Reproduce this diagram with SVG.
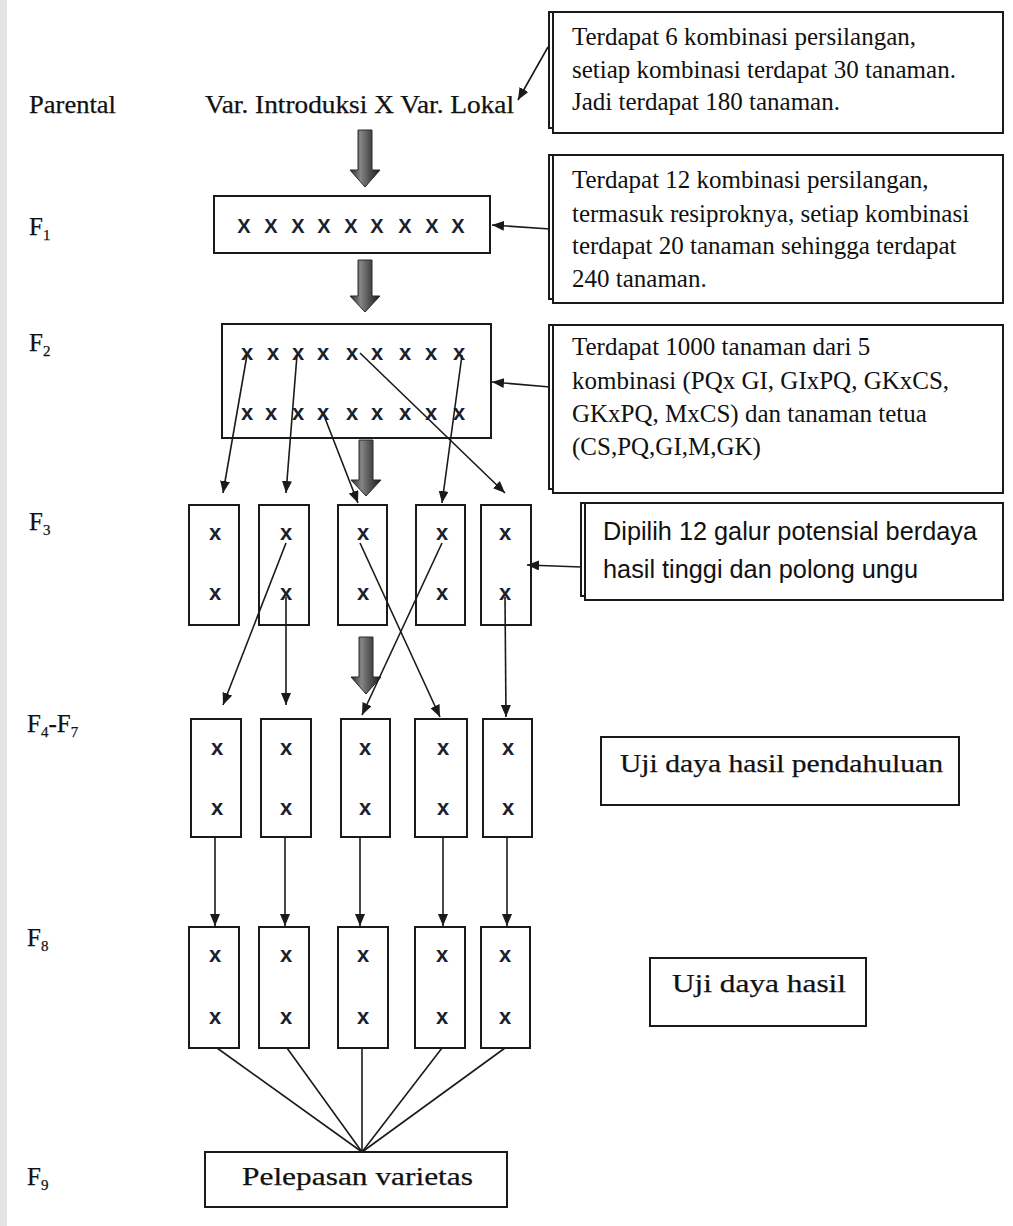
<svg xmlns="http://www.w3.org/2000/svg" width="1013" height="1226" viewBox="0 0 1013 1226">
  <defs>
    <style>
      .box { fill: #ffffff; stroke: #1a1a1a; stroke-width: 2; }
      .sh { fill: none; stroke: #1a1a1a; stroke-width: 2; }
      .ln { fill: none; stroke: #1a1a1a; stroke-width: 1.6; }
      .arr { fill: none; stroke: #1a1a1a; stroke-width: 1.6; marker-end: url(#ah); }
      .big { fill: url(#gg); stroke: #2a2a2a; stroke-width: 1; }
      .serif { font-family: "Liberation Serif", "Times New Roman", serif; fill: #111111; stroke: #111111; stroke-width: 0.25; }
      .note { font-family: "Liberation Serif", "Times New Roman", serif; font-size: 25px; fill: #111111; }
      .sans { font-family: "Liberation Sans", Arial, sans-serif; fill: #111111; }
      .x { font-family: "Liberation Sans", Arial, sans-serif; font-weight: bold; font-size: 22px; fill: #1b1f2e; text-anchor: middle; }
      .X { font-family: "Liberation Sans", Arial, sans-serif; font-weight: bold; font-size: 20px; fill: #1b1f2e; text-anchor: middle; }
      .lab { font-family: "Liberation Serif", "Times New Roman", serif; font-size: 25px; fill: #111111; stroke: #111111; stroke-width: 0.25; }
      .sub { font-size: 15px; }
    </style>
    <linearGradient id="gg" x1="0" y1="0" x2="1" y2="0">
      <stop offset="0" stop-color="#2a2a2a"/>
      <stop offset="0.35" stop-color="#858585"/>
      <stop offset="0.65" stop-color="#505050"/>
      <stop offset="1" stop-color="#1c1c1c"/>
    </linearGradient>
    <marker id="ah" viewBox="0 0 12 10" refX="12" refY="5" markerWidth="12" markerHeight="10" orient="auto" markerUnits="userSpaceOnUse">
      <path d="M0,0 L12,5 L0,10 Z" fill="#1a1a1a"/>
    </marker>
  </defs>

  <rect x="0" y="0" width="1013" height="1226" fill="#ffffff"/>
  <rect x="0" y="0" width="7" height="1226" fill="#e4e4e4"/>

  <!-- generation labels -->
  <g id="labels">
    <text class="lab" x="29" y="113" textLength="87" lengthAdjust="spacingAndGlyphs">Parental</text>
    <text class="lab" x="29" y="235">F<tspan class="sub" dy="5">1</tspan></text>
    <text class="lab" x="29" y="351">F<tspan class="sub" dy="5">2</tspan></text>
    <text class="lab" x="29" y="530">F<tspan class="sub" dy="5">3</tspan></text>
    <text class="lab" x="27" y="732">F<tspan class="sub" dy="5">4</tspan><tspan dy="-5">-F</tspan><tspan class="sub" dy="5">7</tspan></text>
    <text class="lab" x="27" y="946">F<tspan class="sub" dy="5">8</tspan></text>
    <text class="lab" x="27" y="1185">F<tspan class="sub" dy="5">9</tspan></text>
  </g>

  <g id="parental">
    <text class="lab" x="205" y="113" textLength="309" lengthAdjust="spacingAndGlyphs">Var. Introduksi X Var. Lokal</text>
  </g>

  <!-- callout notes -->
  <g id="note1">
    <rect class="box" x="553" y="12" width="450" height="121"/>
    <path class="sh" d="M553,12 H549 V128 H553"/>
    <text class="note" x="572" y="45">Terdapat 6 kombinasi persilangan,</text>
    <text class="note" x="572" y="78">setiap kombinasi terdapat 30 tanaman.</text>
    <text class="note" x="572" y="110">Jadi terdapat 180 tanaman.</text>
  </g>
  <g id="note2">
    <rect class="box" x="553" y="155" width="450" height="148"/>
    <path class="sh" d="M553,155 H549 V299 H553"/>
    <text class="note" x="572" y="188">Terdapat 12 kombinasi persilangan,</text>
    <text class="note" x="572" y="222">termasuk resiproknya, setiap kombinasi</text>
    <text class="note" x="572" y="254">terdapat 20 tanaman sehingga terdapat</text>
    <text class="note" x="572" y="287">240 tanaman.</text>
  </g>
  <g id="note3">
    <rect class="box" x="553" y="325" width="450" height="168"/>
    <path class="sh" d="M553,325 H549 V489 H553"/>
    <text class="note" x="572" y="355">Terdapat 1000 tanaman dari 5</text>
    <text class="note" x="572" y="389">kombinasi (PQx GI, GIxPQ, GKxCS,</text>
    <text class="note" x="572" y="422">GKxPQ, MxCS) dan tanaman tetua</text>
    <text class="note" x="572" y="455">(CS,PQ,GI,M,GK)</text>
  </g>
  <g id="note4">
    <rect class="box" x="585" y="503" width="418" height="97"/>
    <path class="sh" d="M585,503 H581 V596 H585"/>
    <text class="sans" x="603" y="540" font-size="25" textLength="374" lengthAdjust="spacingAndGlyphs">Dipilih 12 galur potensial berdaya</text>
    <text class="sans" x="603" y="578" font-size="25" textLength="315" lengthAdjust="spacingAndGlyphs">hasil tinggi dan polong ungu</text>
  </g>
  <g id="note5">
    <rect class="box" x="601" y="737" width="358" height="68"/>
    <text class="serif" x="620" y="772" font-size="26" textLength="323" lengthAdjust="spacingAndGlyphs">Uji daya hasil pendahuluan</text>
  </g>
  <g id="note6">
    <rect class="box" x="650" y="958" width="216" height="68"/>
    <text class="serif" x="672" y="992" font-size="26" textLength="174" lengthAdjust="spacingAndGlyphs">Uji daya hasil</text>
  </g>

  <!-- F1 -->
  <g id="f1">
    <rect class="box" x="214" y="196" width="276" height="57"/>
    <text class="X" y="233"><tspan x="244">X</tspan><tspan x="271">X</tspan><tspan x="298">X</tspan><tspan x="324">X</tspan><tspan x="351">X</tspan><tspan x="377">X</tspan><tspan x="405">X</tspan><tspan x="432">X</tspan><tspan x="458">X</tspan></text>
  </g>

  <!-- F2 -->
  <g id="f2">
    <rect class="box" x="222" y="324" width="269" height="114"/>
    <text class="x" y="360"><tspan x="247">x</tspan><tspan x="273">x</tspan><tspan x="298">x</tspan><tspan x="323">x</tspan><tspan x="352">x</tspan><tspan x="377">x</tspan><tspan x="405">x</tspan><tspan x="431">x</tspan><tspan x="459">x</tspan></text>
    <text class="x" y="420"><tspan x="247">x</tspan><tspan x="271">x</tspan><tspan x="298">x</tspan><tspan x="323">x</tspan><tspan x="352">x</tspan><tspan x="377">x</tspan><tspan x="405">x</tspan><tspan x="431">x</tspan><tspan x="459">x</tspan></text>
  </g>

  <!-- F3 -->
  <g id="f3-1"><rect class="box" x="189" y="505" width="50" height="120"/><text class="x" x="215" y="540">x</text><text class="x" x="215" y="600">x</text></g>
  <g id="f3-2"><rect class="box" x="259" y="505" width="50" height="120"/><text class="x" x="286" y="540">x</text><text class="x" x="286" y="600">x</text></g>
  <g id="f3-3"><rect class="box" x="338" y="505" width="49" height="120"/><text class="x" x="363" y="540">x</text><text class="x" x="363" y="600">x</text></g>
  <g id="f3-4"><rect class="box" x="416" y="505" width="49" height="120"/><text class="x" x="442" y="540">x</text><text class="x" x="442" y="600">x</text></g>
  <g id="f3-5"><rect class="box" x="481" y="505" width="50" height="120"/><text class="x" x="505" y="540">x</text><text class="x" x="505" y="600">x</text></g>

  <!-- F4-F7 -->
  <g id="f4-1"><rect class="box" x="191" y="719" width="50" height="118"/><text class="x" x="217" y="755">x</text><text class="x" x="217" y="815">x</text></g>
  <g id="f4-2"><rect class="box" x="261" y="719" width="50" height="118"/><text class="x" x="286" y="755">x</text><text class="x" x="286" y="815">x</text></g>
  <g id="f4-3"><rect class="box" x="341" y="719" width="49" height="118"/><text class="x" x="365" y="755">x</text><text class="x" x="365" y="815">x</text></g>
  <g id="f4-4"><rect class="box" x="415" y="719" width="52" height="118"/><text class="x" x="443" y="755">x</text><text class="x" x="443" y="815">x</text></g>
  <g id="f4-5"><rect class="box" x="483" y="719" width="49" height="118"/><text class="x" x="508" y="755">x</text><text class="x" x="508" y="815">x</text></g>

  <!-- F8 -->
  <g id="f8-1"><rect class="box" x="189" y="927" width="50" height="121"/><text class="x" x="215" y="962">x</text><text class="x" x="215" y="1024">x</text></g>
  <g id="f8-2"><rect class="box" x="259" y="927" width="50" height="121"/><text class="x" x="286" y="962">x</text><text class="x" x="286" y="1024">x</text></g>
  <g id="f8-3"><rect class="box" x="338" y="927" width="50" height="121"/><text class="x" x="363" y="962">x</text><text class="x" x="363" y="1024">x</text></g>
  <g id="f8-4"><rect class="box" x="415" y="927" width="50" height="121"/><text class="x" x="442" y="962">x</text><text class="x" x="442" y="1024">x</text></g>
  <g id="f8-5"><rect class="box" x="481" y="927" width="49" height="121"/><text class="x" x="505" y="962">x</text><text class="x" x="505" y="1024">x</text></g>

  <!-- F9 -->
  <g id="f9">
    <rect class="box" x="205" y="1152" width="302" height="55"/>
    <text class="serif" x="242" y="1185" font-size="26" textLength="231" lengthAdjust="spacingAndGlyphs">Pelepasan varietas</text>
  </g>

  <!-- connectors -->
  <g id="connectors">
    <!-- big shaded arrows -->
    <path class="big" d="M358,130 H372 V170 H380 L365,187 L350,170 H358 Z"/>
    <path class="big" d="M358,260 H372 V296 H380 L365,312 L350,296 H358 Z"/>
    <path class="big" d="M359,440 H373 V480 H381 L366,496 L351,480 H359 Z"/>
    <path class="big" d="M359,637 H373 V677 H381 L366,694 L351,677 H359 Z"/>

    <!-- callout arrows -->
    <line class="arr" x1="548" y1="47" x2="518" y2="100"/>
    <line class="arr" x1="550" y1="229" x2="492" y2="225"/>
    <line class="arr" x1="550" y1="387" x2="492" y2="382"/>
    <line class="arr" x1="581" y1="567" x2="527" y2="565"/>

    <!-- F2 to F3 -->
    <line class="arr" x1="247" y1="355" x2="223" y2="493"/>
    <line class="arr" x1="297" y1="355" x2="286" y2="493"/>
    <line class="arr" x1="323" y1="413" x2="358" y2="503"/>
    <line class="arr" x1="462" y1="355" x2="442" y2="503"/>
    <line class="arr" x1="360" y1="353" x2="505" y2="493"/>

    <!-- F3 to F4 -->
    <line class="arr" x1="286" y1="543" x2="223" y2="705"/>
    <line class="arr" x1="286" y1="597" x2="286" y2="705"/>
    <line class="arr" x1="360" y1="543" x2="440" y2="717"/>
    <line class="arr" x1="442" y1="543" x2="362" y2="715"/>
    <line class="arr" x1="505" y1="597" x2="506" y2="717"/>

    <!-- F4 to F8 -->
    <line class="arr" x1="215" y1="837" x2="215" y2="926"/>
    <line class="arr" x1="285" y1="837" x2="285" y2="926"/>
    <line class="arr" x1="360" y1="837" x2="360" y2="926"/>
    <line class="arr" x1="443" y1="837" x2="443" y2="926"/>
    <line class="arr" x1="507" y1="837" x2="507" y2="926"/>

    <!-- F8 to F9 -->
    <line class="ln" x1="217" y1="1048" x2="362" y2="1152"/>
    <line class="ln" x1="287" y1="1048" x2="362" y2="1152"/>
    <line class="ln" x1="362" y1="1048" x2="362" y2="1152"/>
    <line class="ln" x1="442" y1="1048" x2="362" y2="1152"/>
    <line class="ln" x1="505" y1="1048" x2="362" y2="1152"/>
  </g>
</svg>
